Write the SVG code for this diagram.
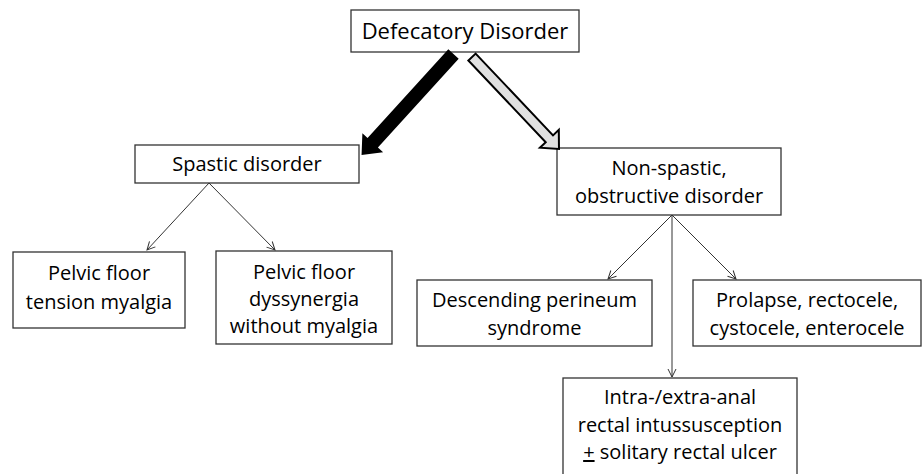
<svg xmlns="http://www.w3.org/2000/svg" width="923" height="474" viewBox="0 0 923 474">
<defs>
<style>
.box{fill:#fff;stroke:#333;stroke-width:1.3}
.t{font-family:"Open Sans","Liberation Sans",sans-serif;font-size:20px;fill:#000;text-anchor:middle}
.big{font-size:22px}
.ln{stroke:#333;stroke-width:1;fill:none}
</style>
<marker id="ah" markerWidth="10" markerHeight="10" refX="9" refY="5" orient="auto" markerUnits="userSpaceOnUse">
<path d="M1,1 L9,5 L1,9" fill="none" stroke="#333" stroke-width="1"/>
</marker>
</defs>
<rect width="923" height="474" fill="#fff"/>
<g id="n-defecatory">
<rect class="box" x="351" y="10" width="228" height="42"/>
<text class="t big" x="465" y="39">Defecatory Disorder</text>
</g>
<g id="n-spastic">
<rect class="box" x="135" y="145" width="224" height="38"/>
<text class="t" x="247" y="171">Spastic disorder</text>
</g>
<g id="n-tension">
<rect class="box" x="13" y="252" width="172" height="76"/>
<text class="t" x="99" y="280">Pelvic floor</text>
<text class="t" x="99" y="309">tension myalgia</text>
</g>
<g id="n-dyssynergia">
<rect class="box" x="216" y="251" width="176" height="93"/>
<text class="t" x="304" y="279">Pelvic floor</text>
<text class="t" x="304" y="306">dyssynergia</text>
<text class="t" x="304" y="333">without myalgia</text>
</g>
<g id="n-nonspastic">
<rect class="box" x="557" y="148" width="224" height="67"/>
<text class="t" x="669" y="175">Non-spastic,</text>
<text class="t" x="669" y="203">obstructive disorder</text>
</g>
<g id="n-descending">
<rect class="box" x="417" y="280" width="235" height="66"/>
<text class="t" x="534.5" y="307">Descending perineum</text>
<text class="t" x="534.5" y="335">syndrome</text>
</g>
<g id="n-prolapse">
<rect class="box" x="693" y="280" width="228" height="66"/>
<text class="t" x="807" y="307">Prolapse, rectocele,</text>
<text class="t" x="807" y="335">cystocele, enterocele</text>
</g>
<g id="n-intra">
<rect class="box" x="563" y="378" width="234" height="110"/>
<text class="t" x="680" y="404">Intra-/extra-anal</text>
<text class="t" x="680" y="432">rectal intussusception</text>
<text class="t" x="680" y="459"><tspan text-decoration="underline">+</tspan> solitary rectal ulcer</text>
</g>
<g id="connectors">
<polygon transform="translate(453.5,54) rotate(132.3)" points="0,-7 120,-7 120,-14 136.6,0 120,14 120,7 0,7" fill="#000"/>
<polygon transform="translate(472,57) rotate(46.6)" points="0,-5 112.6,-5 112.6,-13 126.6,0 112.6,13 112.6,5 0,5" fill="#e0e0e0" stroke="#000" stroke-width="2" stroke-linejoin="miter"/>
<line class="ln" x1="209" y1="183" x2="147" y2="250" marker-end="url(#ah)"/>
<line class="ln" x1="209" y1="183" x2="275" y2="250" marker-end="url(#ah)"/>
<line class="ln" x1="672" y1="215" x2="608" y2="279" marker-end="url(#ah)"/>
<line class="ln" x1="672" y1="215" x2="736" y2="279" marker-end="url(#ah)"/>
<line class="ln" x1="672" y1="215" x2="672" y2="377" marker-end="url(#ah)"/>
</g>
</svg>
